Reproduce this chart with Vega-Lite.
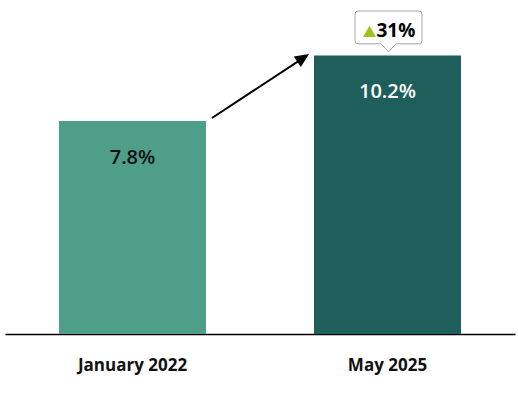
{
  "$schema": "https://vega.github.io/schema/vega-lite/v6.json",
  "autosize": "none",
  "width": 510,
  "height": 334,
  "padding": {"left": 5, "top": 0, "right": 3, "bottom": 63},
  "background": "white",
  "config": {"view": {"stroke": null}, "font": "Open Sans"},
  "datasets": {
    "bars": [
      {"period": "January 2022", "rate": 7.8, "label": "7.8%", "kind": "a"},
      {"period": "May 2025", "rate": 10.2, "label": "10.2%", "kind": "b"}
    ],
    "arrow": [
      {"from": "January 2022", "to": "May 2025", "y_start": 7.91, "y_end": 10.03, "head": 10.11}
    ],
    "callout": [
      {"period": "May 2025", "rate": 10.2, "change": "31%"}
    ]
  },
  "layer": [
    {
      "data": {"name": "bars"},
      "mark": {"type": "bar"},
      "encoding": {
        "x": {
          "field": "period", "type": "nominal", "sort": null,
          "scale": {"paddingInner": 0.4235, "paddingOuter": 0.2118},
          "axis": {
            "title": null, "domain": true, "domainColor": "#000000", "domainWidth": 1.5,
            "ticks": false, "labelAngle": 0, "labelFontSize": 17, "labelFontWeight": "bold",
            "labelColor": "#111111", "labelPadding": 23, "labelFont": "Open Sans"
          }
        },
        "y": {
          "field": "rate", "type": "quantitative",
          "scale": {"domain": [0, 12.23], "nice": false},
          "axis": null
        },
        "color": {
          "field": "kind", "type": "nominal", "legend": null,
          "scale": {"domain": ["a", "b"], "range": ["#4e9e89", "#1e5e5b"]}
        }
      }
    },
    {
      "data": {"name": "bars"},
      "mark": {"type": "text", "dy": 37, "fontSize": 20, "fontWeight": 600, "baseline": "middle", "align": "center"},
      "encoding": {
        "x": {"field": "period", "type": "nominal", "sort": null},
        "y": {"field": "rate", "type": "quantitative"},
        "text": {"field": "label"},
        "color": {"condition": {"test": "datum.kind === 'a'", "value": "#111111"}, "value": "#ffffff"}
      }
    },
    {
      "data": {"name": "arrow"},
      "mark": {"type": "rule", "color": "#000000", "strokeWidth": 2, "xOffset": 79.5, "x2Offset": -87.5},
      "encoding": {
        "x": {"field": "from", "type": "nominal"},
        "x2": {"field": "to"},
        "y": {"field": "y_start", "type": "quantitative"},
        "y2": {"field": "y_end"}
      }
    },
    {
      "data": {"name": "arrow"},
      "mark": {"type": "point", "shape": "M1,0L-1,-0.9L-1,0.9Z", "filled": true, "color": "#000000", "opacity": 1, "size": 196, "angle": 326.6, "xOffset": -84.3},
      "encoding": {
        "x": {"field": "to", "type": "nominal"},
        "y": {"field": "head", "type": "quantitative"}
      }
    },
    {
      "data": {"name": "callout"},
      "mark": {
        "type": "point",
        "shape": "M-0.91,-0.49L0.91,-0.49Q1,-0.49 1,-0.4L1,0.4Q1,0.49 0.91,0.49L0.22,0.49L0,0.73L-0.22,0.49L-0.91,0.49Q-1,0.49 -1,0.4L-1,-0.4Q-1,-0.49 -0.91,-0.49Z",
        "filled": true, "fill": "#ffffff", "stroke": "#a6a6a6", "strokeWidth": 1, "opacity": 1, "fillOpacity": 1,
        "size": 4489, "xOffset": 1, "yOffset": -28
      },
      "encoding": {
        "x": {"field": "period", "type": "nominal"},
        "y": {"field": "rate", "type": "quantitative"}
      }
    },
    {
      "data": {"name": "callout"},
      "mark": {"type": "point", "shape": "triangle-up", "filled": true, "color": "#9dc41e", "opacity": 1, "size": 170, "xOffset": -18, "yOffset": -24},
      "encoding": {
        "x": {"field": "period", "type": "nominal"},
        "y": {"field": "rate", "type": "quantitative"}
      }
    },
    {
      "data": {"name": "callout"},
      "mark": {"type": "text", "align": "left", "baseline": "alphabetic", "fontSize": 19, "fontWeight": "bold", "color": "#000000", "dx": -11, "dy": -18},
      "encoding": {
        "x": {"field": "period", "type": "nominal"},
        "y": {"field": "rate", "type": "quantitative"},
        "text": {"field": "change"}
      }
    }
  ]
}
